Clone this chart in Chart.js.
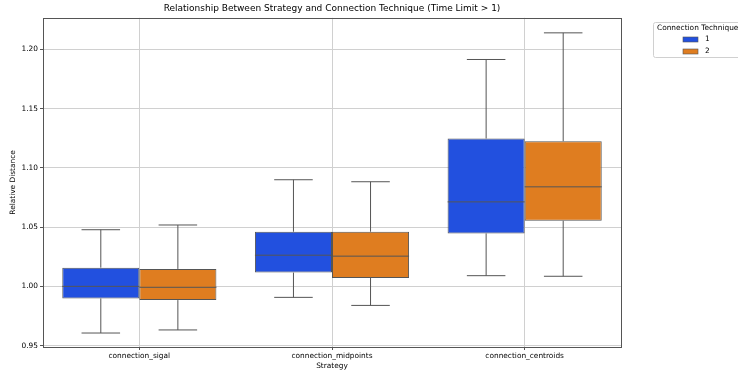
<!DOCTYPE html>
<html>
<head>
<meta charset="utf-8">
<script src="https://cdn.jsdelivr.net/npm/chart.js@4.4.1/dist/chart.umd.min.js"></script>
<style>
  html, body { margin: 0; padding: 0; background: #fff; }
  #wrap { width: 738px; height: 375px; }
</style>
</head>
<body>
<div id="wrap"><canvas id="grafico" width="738" height="375"></canvas></div>
<script>
const strategies = ['connection_sigal', 'connection_midpoints', 'connection_centroids'];
const techniques = ['1', '2'];
const yTicks = [0.95, 1.00, 1.05, 1.10, 1.15, 1.20];

// resumo de cinco números por técnica (um valor por estratégia)
const min1 = [0.9606, 0.9907, 1.0090];
const q1_1 = [0.9898, 1.0116, 1.0447];
const med1 = [1.0000, 1.0263, 1.0713];
const q3_1 = [1.0158, 1.0461, 1.1248];
const max1 = [1.0478, 1.0900, 1.1915];

const min2 = [0.9632, 0.9839, 1.0085];
const q1_2 = [0.9884, 1.0071, 1.0554];
const med2 = [0.9992, 1.0255, 1.0840];
const q3_2 = [1.0147, 1.0461, 1.1225];
const max2 = [1.0518, 1.0883, 1.2140];

const FONT = 'DejaVu Sans';
const EDGE = '#555555';
const TXT = 7.4;

function makeBoxes(label, color, mins, q1s, meds, q3s, maxs) {
  return {
    label: label,
    data: strategies.map((s, i) => [q1s[i], q3s[i]]),
    min: mins,
    med: meds,
    max: maxs,
    backgroundColor: color,
    borderColor: EDGE,
    borderWidth: 1,
    borderSkipped: false,
    categoryPercentage: 0.8,
    barPercentage: 1.0
  };
}

// Bigodes e medianas desenhados sobre as barras flutuantes
const boxPlugin = {
  id: 'boxWhiskers',
  afterDatasetsDraw(chart) {
    const ctx = chart.ctx;
    const y = chart.scales.y;
    ctx.save();
    ctx.strokeStyle = EDGE;
    ctx.lineWidth = 1;
    chart.data.datasets.forEach((ds, d) => {
      chart.getDatasetMeta(d).data.forEach((bar, i) => {
        const p = bar.getProps(['x', 'width'], true);
        const half = p.width / 2;
        const cap = p.width / 4;
        const yMin = y.getPixelForValue(ds.min[i]);
        const yMax = y.getPixelForValue(ds.max[i]);
        const yQ1 = y.getPixelForValue(ds.data[i][0]);
        const yQ3 = y.getPixelForValue(ds.data[i][1]);
        const yMed = y.getPixelForValue(ds.med[i]);
        ctx.beginPath();
        ctx.moveTo(p.x, yQ3); ctx.lineTo(p.x, yMax);
        ctx.moveTo(p.x - cap, yMax); ctx.lineTo(p.x + cap, yMax);
        ctx.moveTo(p.x, yQ1); ctx.lineTo(p.x, yMin);
        ctx.moveTo(p.x - cap, yMin); ctx.lineTo(p.x + cap, yMin);
        ctx.moveTo(p.x - half, yMed); ctx.lineTo(p.x + half, yMed);
        ctx.stroke();
      });
    });
    ctx.restore();
  },
  afterDraw(chart) {
    const ctx = chart.ctx;
    const a = chart.chartArea;
    ctx.save();
    // moldura dos eixos
    ctx.strokeStyle = EDGE;
    ctx.lineWidth = 1;
    ctx.strokeRect(Math.round(a.left) + 0.5, Math.round(a.top) + 0.5,
      Math.round(a.right - a.left), Math.round(a.bottom - a.top));

    // legenda
    const lx = 653, ly = 22;
    ctx.fillStyle = '#fff';
    ctx.strokeStyle = '#d0d0d0';
    ctx.beginPath();
    ctx.roundRect(lx + 0.5, ly + 0.5, 100, 35, 2);
    ctx.fill();
    ctx.stroke();
    ctx.fillStyle = '#000';
    ctx.font = TXT + 'px "' + FONT + '"';
    ctx.textBaseline = 'middle';
    ctx.textAlign = 'left';
    ctx.fillText('Connection Technique', lx + 4, ly + 6.5);
    chart.data.datasets.forEach((ds, d) => {
      const yy = ly + 15 + d * 12;
      ctx.fillStyle = ds.backgroundColor;
      ctx.fillRect(683, yy, 15, 5);
      ctx.strokeStyle = EDGE;
      ctx.lineWidth = 0.6;
      ctx.strokeRect(683, yy, 15, 5);
      ctx.fillStyle = '#000';
      ctx.fillText(ds.label, 705, yy + 2.5);
    });
    ctx.restore();
  }
};

const ctxBox = document.getElementById('grafico').getContext('2d');
new Chart(ctxBox, {
  type: 'bar',
  data: {
    labels: strategies,
    datasets: [
      makeBoxes(techniques[0], '#2250DF', min1, q1_1, med1, q3_1, max1),
      makeBoxes(techniques[1], '#DF7D20', min2, q1_2, med2, q3_2, max2)
    ]
  },
  options: {
    responsive: false,
    animation: false,
    layout: { padding: { left: 0, right: 117, top: 0, bottom: 0 } },
    plugins: {
      legend: { display: false },
      tooltip: { enabled: false },
      title: {
        display: true,
        fullSize: false,
        text: 'Relationship Between Strategy and Connection Technique (Time Limit > 1)',
        color: '#000',
        font: { family: FONT, size: 9, weight: 'normal' },
        padding: { top: 3, bottom: 4 }
      }
    },
    scales: {
      x: {
        offset: true,
        grid: { offset: false, color: '#d0d0d0', tickColor: EDGE, tickLength: 3 },
        border: { display: false },
        ticks: { color: '#000', padding: 2, font: { family: FONT, size: TXT }, maxRotation: 0 },
        title: { display: true, text: 'Strategy', color: '#000', padding: { top: 0, bottom: 4 },
          font: { family: FONT, size: TXT } },
        afterFit(scale) { scale.height = 28; }
      },
      y: {
        min: 0.9488,
        max: 1.2267,
        grid: { color: '#d0d0d0', tickColor: EDGE, tickLength: 3 },
        border: { display: false },
        afterBuildTicks(scale) { scale.ticks = yTicks.map(v => ({ value: v })); },
        ticks: {
          color: '#000', padding: 2, font: { family: FONT, size: TXT },
          callback: function(value) { return value.toFixed(2); }
        },
        title: { display: true, text: 'Relative Distance', color: '#000', padding: { top: 9, bottom: 0 },
          font: { family: FONT, size: TXT } },
        afterFit(scale) { scale.width = 43; }
      }
    }
  },
  plugins: [boxPlugin]
});
</script>
</body>
</html>
